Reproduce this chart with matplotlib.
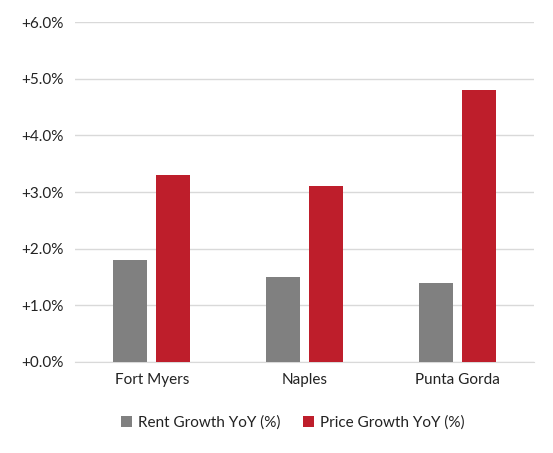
import matplotlib.pyplot as plt
import numpy as np
from matplotlib.ticker import FuncFormatter

plt.rcParams['font.family'] = ['Lato', 'DejaVu Sans']

cities = ["Fort Myers", "Naples", "Punta Gorda"]
rent_growth = [1.8, 1.5, 1.4]
price_growth = [3.3, 3.1, 4.8]

fig = plt.figure(figsize=(5.53, 4.53), dpi=100)
ax = fig.add_axes([0.136, 0.201, 0.83, 0.75])

x = np.arange(len(cities))
w = 0.225
ax.bar(x - 0.14, rent_growth, w, color="#808080", label="Rent Growth YoY (%)", zorder=3)
ax.bar(x + 0.14, price_growth, w, color="#be1e2b", label="Price Growth YoY (%)", zorder=3)

ax.set_ylim(0, 6)
ax.set_xlim(-0.5, 2.5)
ax.set_yticks(np.arange(0, 7, 1))
ax.yaxis.set_major_formatter(FuncFormatter(lambda v, _: f"+{v:.1f}%"))
ax.set_xticks(x)
ax.set_xticklabels(cities)
ax.grid(axis="y", color="#d9d9d9", linewidth=1, zorder=0)
for s in ["top", "right", "left"]:
    ax.spines[s].set_visible(False)
ax.spines["bottom"].set_color("#d9d9d9")
ax.tick_params(length=0, labelsize=11, colors="#222222", pad=8)

fig.legend(loc="lower center", bbox_to_anchor=(0.53, 0.02), ncol=2, frameon=False,
           fontsize=11, handlelength=0.7, handleheight=0.7, columnspacing=1.5,
           handletextpad=0.4, labelcolor="#222222")

fig.savefig("out.png", dpi=100)
